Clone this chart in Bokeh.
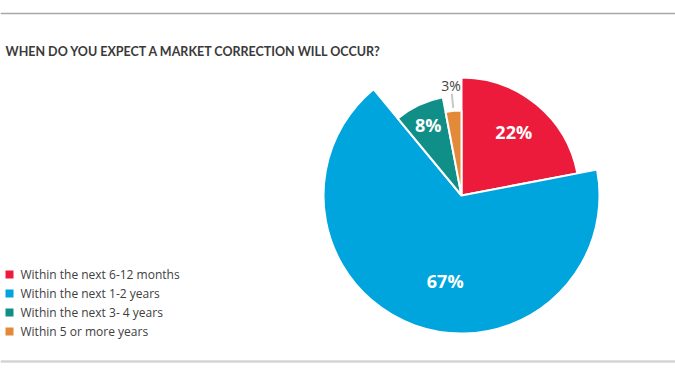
import numpy as np
from bokeh.plotting import figure
from bokeh.models import Range1d
from bokeh.core.properties import value
from bokeh.embed import file_html
from bokeh.resources import INLINE

title = "WHEN DO YOU EXPECT A MARKET CORRECTION WILL OCCUR?"
categories = ["Within the next 6-12 months", "Within the next 1-2 years",
              "Within the next 3- 4 years", "Within 5 or more years"]
shares = [22, 67, 8, 3]
labels = ["22%", "67%", "8%", "3%"]
colors = ["#ED1B3B", "#00A5DE", "#0F8F87", "#E38A3A"]

# style
radii = [118, 138, 100, 85]
label_r = [82, 87, 78, 110]
label_shift_deg = [0, 9, 0, 0]
label_colors = ["white", "white", "white", "#454545"]
label_sizes = ["18px", "18px", "18px", "14px"]
label_styles = ["bold", "bold", "bold", "normal"]

W, H = 675, 374
p = figure(width=W, height=H, x_range=Range1d(0, W), y_range=Range1d(0, H),
           output_backend="svg", toolbar_location=None, min_border=0,
           x_axis_location=None, y_axis_location=None)
p.grid.visible = False
p.outline_line_color = None
p.background_fill_color = "white"

# rules
p.segment(x0=[0], y0=[H - 13], x1=[W], y1=[H - 13], line_color="#a8a8a8", line_width=1.5)
p.segment(x0=[0], y0=[13], x1=[W], y1=[13], line_color="#d4d4d4", line_width=2.5)

# title
p.text(x=[5], y=[H - 51], text=[title], text_font=value("Lato"),
       text_font_style="bold", text_font_size="12.5px", text_color="#3a3a3a",
       text_baseline="alphabetic", text_align="left")

# pie
cx, cy = 461, H - 195
frac = np.array(shares, dtype=float) / sum(shares)
cum = np.concatenate([[0], np.cumsum(frac)])
start = np.pi / 2 - 2 * np.pi * cum[:-1]
end = np.pi / 2 - 2 * np.pi * cum[1:]
p.wedge(x=[cx] * 4, y=[cy] * 4, radius=radii, start_angle=list(start), end_angle=list(end),
        direction="clock", fill_color=colors, line_color="white", line_width=2)

mid = (start + end) / 2 + np.radians(label_shift_deg)
lx = cx + np.array(label_r) * np.cos(mid)
ly = cy + np.array(label_r) * np.sin(mid)
for i in range(4):
    p.text(x=[lx[i]], y=[ly[i]], text=[labels[i]], text_font=value("Open Sans"),
           text_font_size=label_sizes[i], text_font_style=label_styles[i],
           text_color=label_colors[i], text_align="center", text_baseline="middle")

# leader for small slice
m3 = (start[3] + end[3]) / 2
p.segment(x0=[cx + 88 * np.cos(m3)], y0=[cy + 88 * np.sin(m3)],
          x1=[cx + 102 * np.cos(m3)], y1=[cy + 102 * np.sin(m3)],
          line_color="#c8c8c8", line_width=2)

# legend
ys = [H - 274 - 19 * i for i in range(4)]
p.rect(x=[9] * 4, y=ys, width=8, height=8, fill_color=colors, line_color=None)
p.text(x=[20] * 4, y=ys, text=categories, text_font=value("Open Sans"),
       text_font_size="12px", text_color="#404040", text_baseline="middle", text_align="left")

open("out.html", "w").write(file_html(p, INLINE))
